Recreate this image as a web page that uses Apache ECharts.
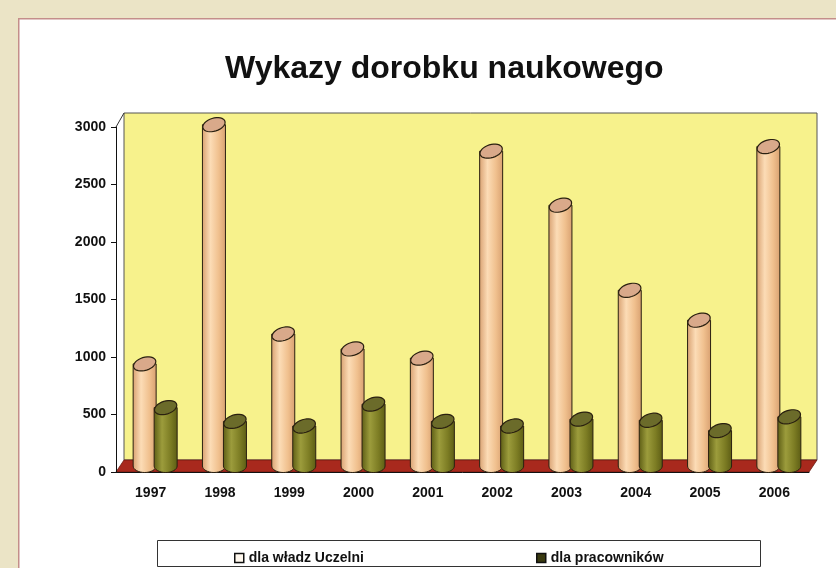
<!DOCTYPE html>
<html>
<head>
<meta charset="utf-8">
<script src="https://cdn.jsdelivr.net/npm/echarts@6/dist/echarts.min.js"></script>
<style>
html, body { margin: 0; padding: 0; background: #ebe4c6; }
#main { width: 836px; height: 568px; }
</style>
</head>
<body>
<div id="main"></div>
<script>
var years = ['1997', '1998', '1999', '2000', '2001', '2002', '2003', '2004', '2005', '2006'];
var dlaWladz = [940, 3020, 1200, 1070, 990, 2790, 2320, 1580, 1320, 2830];
var dlaPracownikow = [560, 440, 400, 590, 440, 400, 460, 450, 360, 480];
var seriesNames = ['dla władz Uczelni', 'dla pracowników'];

var DX = 8, DY = -12;   // depth offset of the back wall

var myChart = echarts.init(document.getElementById('main'));

function ellipsePts(cx, cy, rx, ry, rot, from, to, n) {
    var pts = [];
    for (var i = 0; i <= n; i++) {
        var t = from + (to - from) * i / n;
        var x = rx * Math.cos(t), y = ry * Math.sin(t);
        pts.push([cx + x * Math.cos(rot) - y * Math.sin(rot), cy + x * Math.sin(rot) + y * Math.cos(rot)]);
    }
    return pts;
}

function cylinder(offset, side, mid, light, topColor) {
    return function (params, api) {
        var base = api.coord([api.value(0), 0]);
        var top = api.coord([api.value(0), api.value(1)]);
        var cx = base[0] + offset;
        var r = 11.5, ry = 6.5, rot = -0.3;
        var baseY = base[1] - 6;
        var body = [[cx - r, top[1]], [cx - r, baseY]]
            .concat(ellipsePts(cx, baseY, r, ry, 0, Math.PI, 0, 16))
            .concat([[cx + r, top[1]]]);
        var grad = new echarts.graphic.LinearGradient(0, 0, 1, 0, [
            { offset: 0, color: side },
            { offset: 0.35, color: light },
            { offset: 0.7, color: mid },
            { offset: 1, color: side }
        ]);
        return {
            type: 'group',
            children: [
                {
                    type: 'polygon',
                    shape: { points: body },
                    style: { fill: grad, stroke: '#2a2010', lineWidth: 1 }
                },
                {
                    type: 'polygon',
                    shape: { points: ellipsePts(cx, top[1], r, ry, rot, 0, Math.PI * 2, 32) },
                    style: { fill: topColor, stroke: '#2a2010', lineWidth: 1.2 }
                }
            ]
        };
    };
}

function frame(params, api) {
    var c = params.coordSys;
    var x0 = c.x, y0 = c.y, w = c.width, h = c.height;
    var yb = y0 + h;
    return {
        type: 'group',
        silent: true,
        children: [
            {
                type: 'rect',
                shape: { x: x0 + DX, y: y0 + DY - 2, width: w, height: h + 2 },
                style: { fill: '#f7f28c', stroke: '#555', lineWidth: 1 }
            },
            {
                type: 'polyline',
                shape: { points: [[x0, y0], [x0 + DX, y0 + DY - 2]] },
                style: { stroke: '#333', lineWidth: 1 }
            },
            {
                type: 'polygon',
                shape: { points: [[x0, yb], [x0 + w, yb], [x0 + w + DX, yb + DY], [x0 + DX, yb + DY]] },
                style: { fill: '#a8291d', stroke: '#6a1a10', lineWidth: 0.8 }
            }
        ]
    };
}

var labelFont = { fontFamily: 'Liberation Sans', fontSize: 14, fontWeight: 'bold', color: '#111' };

myChart.setOption({
    backgroundColor: '#ebe4c6',
    animation: false,
    graphic: [
        {
            type: 'rect',
            left: 18, top: 18,
            shape: { width: 840, height: 570 },
            style: { fill: '#ffffff', stroke: '#c48e8a', lineWidth: 1.5 },
            z: -10
        },
        {
            type: 'rect',
            left: 157, top: 540,
            shape: { width: 603, height: 26 },
            style: { fill: '#ffffff', stroke: '#333', lineWidth: 1 },
            z: -5
        }
    ],
    title: {
        text: 'Wykazy dorobku naukowego',
        left: 220, top: 48,
        textStyle: { fontFamily: 'Liberation Sans', fontSize: 32, fontWeight: 'bold', color: '#111' }
    },
    legend: [
        {
            left: 229, top: 546,
            itemWidth: 9, itemHeight: 9,
            textStyle: labelFont,
            data: [{ name: seriesNames[0], icon: 'rect', itemStyle: { color: '#fff8ee', borderColor: '#111', borderWidth: 1.5 } }]
        },
        {
            left: 531, top: 546,
            itemWidth: 9, itemHeight: 9,
            textStyle: labelFont,
            data: [{ name: seriesNames[1], icon: 'rect', itemStyle: { color: '#3a3a10', borderColor: '#111', borderWidth: 1.5 } }]
        }
    ],
    grid: { left: 116, right: 27, top: 127, bottom: 96 },
    xAxis: {
        type: 'category',
        data: years,
        axisLine: { lineStyle: { color: '#111', width: 1 } },
        axisTick: { length: 6, lineStyle: { color: '#111' } },
        axisLabel: Object.assign({ margin: 14 }, labelFont)
    },
    yAxis: {
        type: 'value',
        min: 0, max: 3000, interval: 500,
        axisLine: { show: true, lineStyle: { color: '#111', width: 1 } },
        axisTick: { show: true, length: 5, lineStyle: { color: '#111' } },
        splitLine: { show: false },
        axisLabel: Object.assign({ margin: 10, formatter: function (v) { return String(v); } }, labelFont)
    },
    series: [
        {
            type: 'custom',
            name: 'frame',
            renderItem: frame,
            data: [[0, 0]],
            z: 0,
            silent: true
        },
        {
            type: 'custom',
            name: seriesNames[0],
            itemStyle: { color: '#f2c090' },
            renderItem: cylinder(-6, '#d8a070', '#f0c08e', '#fcdcb6', '#d9a98a'),
            encode: { x: 0, y: 1 },
            data: dlaWladz.map(function (v, i) { return [i, v]; }),
            z: 3
        },
        {
            type: 'custom',
            name: seriesNames[1],
            itemStyle: { color: '#7a7a22' },
            renderItem: cylinder(15, '#5c5c14', '#7d7d24', '#9c9c3c', '#6b6b2a'),
            encode: { x: 0, y: 1 },
            data: dlaPracownikow.map(function (v, i) { return [i, v]; }),
            z: 4
        }
    ]
});
window.onresize = function () {
    myChart.resize();
};
</script>
</body>
</html>
